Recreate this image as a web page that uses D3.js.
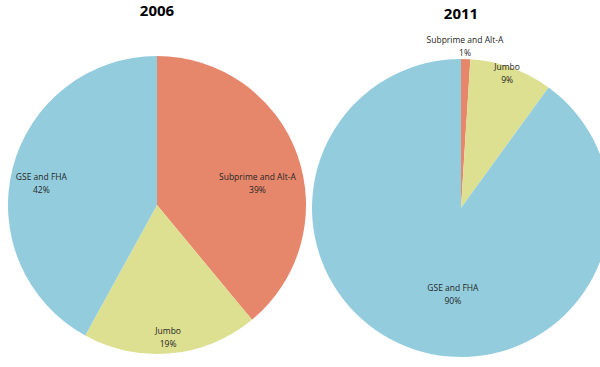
<!DOCTYPE html>
<html><head><meta charset="utf-8">
<script src="https://cdn.jsdelivr.net/npm/d3@7"></script>
<style>body{margin:0;background:#fff}svg{display:block}</style>
</head><body>
<script>
const categories = ["Subprime and Alt-A", "Jumbo", "GSE and FHA"];
const years = ["2006", "2011"];
const values2006 = [39, 19, 42];
const values2011 = [1, 9, 90];
const pctLabels2006 = ["39%", "19%", "42%"];
const pctLabels2011 = ["1%", "9%", "90%"];
const colors = ["#E6876C", "#DDDF91", "#93CDDD"];

// layout (styles) kept separate from data
const W = 600, H = 367;
const pies = [
  {year: years[0], values: values2006, pct: pctLabels2006, cx: 157, cy: 205, r: 149, titleY: 16,
   labelPos: [[77.6, 0.69], [175.2, 0.89], [280.8, 0.79]]},
  {year: years[1], values: values2011, pct: pctLabels2011, cx: 461, cy: 208, r: 149, titleY: 19,
   labelPos: [[1.4, 1.09], [18.8, 0.96], [185.4, 0.58]]}
];

const svg = d3.select("body").append("svg").attr("width", W).attr("height", H);
const pie = d3.pie().sort(null).value(d => d);
const color = d3.scaleOrdinal().domain(categories).range(colors);

pies.forEach(p => {
  const g = svg.append("g").attr("transform", `translate(${p.cx},${p.cy})`);
  const arc = d3.arc().innerRadius(0).outerRadius(p.r);
  const arcs = pie(p.values);
  g.selectAll("path").data(arcs).enter().append("path")
    .attr("d", arc)
    .attr("fill", (d, i) => color(categories[i]));
  arcs.forEach((d, i) => {
    const [ang, frac] = p.labelPos[i];
    const a = ang * Math.PI / 180;
    const x = Math.sin(a) * p.r * frac, y = -Math.cos(a) * p.r * frac;
    const t = g.append("text").attr("text-anchor", "middle")
      .attr("font-family", "'Open Sans', sans-serif").attr("font-size", 8.5)
      .attr("fill", "#262626");
    t.append("tspan").attr("x", x).attr("y", y - 3).text(categories[i]);
    t.append("tspan").attr("x", x).attr("y", y + 10).text(p.pct[i]);
  });
  svg.append("text").attr("x", p.cx).attr("y", p.titleY)
    .attr("text-anchor", "middle")
    .attr("font-family", "'Open Sans', sans-serif").attr("font-weight", "bold")
    .attr("font-size", 15).attr("fill", "#000").text(p.year);
});
</script>
</body></html>
